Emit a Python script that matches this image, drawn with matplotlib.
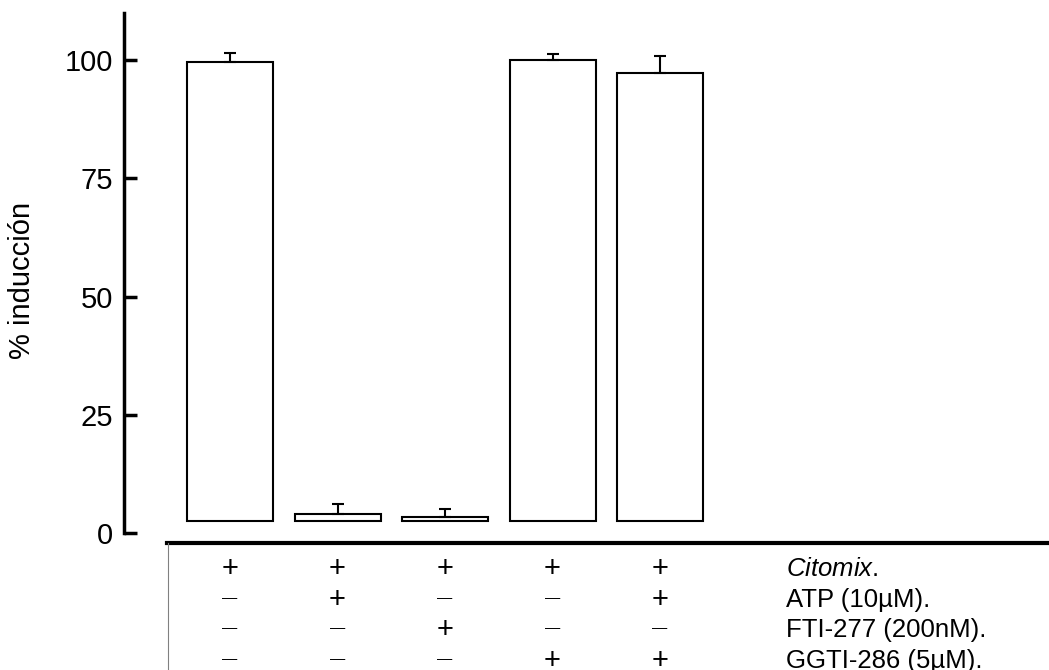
import matplotlib.pyplot as plt
import matplotlib.lines as mlines
import matplotlib.transforms as mtransforms
import numpy as np

plt.rcParams['font.family'] = ['Liberation Sans', 'DejaVu Sans']
plt.rcParams['mathtext.fontset'] = 'custom'
plt.rcParams['mathtext.it'] = 'Liberation Sans:italic'
plt.rcParams['mathtext.rm'] = 'Liberation Sans'

# data
values = [99.7, 4.0, 3.3, 100.0, 97.3]
errors = [1.9, 2.1, 1.7, 1.4, 3.6]
baseline = 2.5
row_labels = [r'$\it{Citomix}$.', 'ATP (10µM).', 'FTI-277 (200nM).', 'GGTI-286 (5µM).']
treatments = [
    [1, 1, 1, 1, 1],
    [0, 1, 0, 0, 1],
    [0, 0, 1, 0, 0],
    [0, 0, 0, 1, 1],
]
yticks = [0, 25, 50, 75, 100]

W, H = 1049, 670
fig = plt.figure(figsize=(W / 100, H / 100), dpi=100)
ax = fig.add_axes([124 / W, 137 / H, (W - 124) / W, 520 / H])

x = np.arange(len(values))
heights = [v - baseline for v in values]
ax.bar(x, heights, bottom=baseline, width=0.8, color='white', edgecolor='black', linewidth=1.5)
ax.errorbar(x, values, yerr=[np.zeros(len(errors)), errors], fmt='none',
            ecolor='black', elinewidth=1.5, capsize=4, capthick=1.5)

ax.set_xlim(-(230 - 124) / 107.5, (W - 230) / 107.5)
ax.set_ylim(0, 110)
ax.set_yticks(yticks)
ax.set_xticks([])
for s in ['top', 'right', 'bottom']:
    ax.spines[s].set_visible(False)
ax.spines['left'].set_linewidth(2.5)
ax.tick_params(axis='y', direction='in', length=9, width=2.5, labelsize=21, pad=8)
fig.text(22 / W, 1 - 280 / H, '% inducción', rotation=90, ha='center', va='center', fontsize=21)

# treatment table under the bars
line_y = 1 - 543 / H
fig.add_artist(mlines.Line2D([167 / W, 1], [line_y, line_y], color='black', lw=3, transform=fig.transFigure))
fig.add_artist(mlines.Line2D([168 / W, 168 / W], [line_y, 0], color='gray', lw=0.8, transform=fig.transFigure))

trans = mtransforms.blended_transform_factory(ax.transData, fig.transFigure)
row_y = [569, 600, 630, 661]
for row, label, yp in zip(treatments, row_labels, row_y):
    fy = 1 - yp / H
    for xi, t in zip(x, row):
        if t:
            ax.text(xi, fy, '+', transform=trans, ha='center', va='center', fontsize=21, clip_on=False)
        else:
            ax.text(xi, fy + 0.003, '—', transform=trans, ha='center', va='center', fontsize=11, clip_on=False)
    ax.text((786 - 230) / 107.5, fy, label, transform=trans, ha='left', va='center', fontsize=18.5, clip_on=False)

fig.savefig('out.png', dpi=100)
